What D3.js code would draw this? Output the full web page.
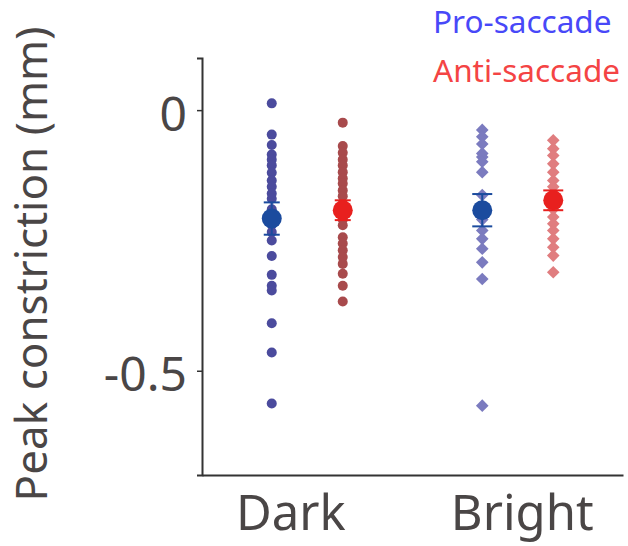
<!DOCTYPE html>
<html>
<head>
<meta charset="utf-8">
<script src="https://cdn.jsdelivr.net/npm/d3@7"></script>
<style>
  html, body { margin: 0; padding: 0; background: #fff; }
  svg { display: block; }
  svg text { font-family: "Noto Sans", "Open Sans", sans-serif; }
</style>
</head>
<body>
<svg id="chart" width="628" height="546"></svg>
<script>
// ---- data ----
const categories = ["Dark", "Bright"];
const seriesNames = ["Pro-saccade", "Anti-saccade"];
const yTicks = [0, -0.5];
const yTickLabels = ["0", "-0.5"];

const darkPro = [0.013, -0.047, -0.067, -0.085, -0.095, -0.106, -0.12, -0.135, -0.147, -0.16, -0.17, -0.19,
  -0.205, -0.22, -0.234, -0.25, -0.28, -0.316, -0.337, -0.346, -0.409, -0.465, -0.563];
const darkAnti = [-0.024, -0.069, -0.082, -0.095, -0.106, -0.119, -0.131, -0.141, -0.154, -0.165, -0.18, -0.2,
  -0.21, -0.221, -0.244, -0.256, -0.269, -0.282, -0.295, -0.314, -0.337, -0.367];
const brightPro = [-0.038, -0.051, -0.065, -0.083, -0.09, -0.099, -0.119, -0.163, -0.2, -0.21, -0.231, -0.247,
  -0.266, -0.292, -0.324, -0.567];
const brightAnti = [-0.058, -0.074, -0.087, -0.103, -0.119, -0.135, -0.147, -0.16, -0.175, -0.19, -0.205, -0.218,
  -0.231, -0.247, -0.263, -0.279, -0.311];

const proMeans = [-0.208, -0.192];
const proSem = [0.031, 0.031];
const antiMeans = [-0.192, -0.173];
const antiSem = [0.019, 0.019];

// ---- styles ----
const pointColors = {
  "Dark|Pro-saccade": "#4b4b9d",
  "Dark|Anti-saccade": "#a84a4c",
  "Bright|Pro-saccade": "#7b7bbf",
  "Bright|Anti-saccade": "#e07d7f"
};
const meanColors = { "Pro-saccade": "#1b4b9e", "Anti-saccade": "#e8201e" };
const legendColors = { "Pro-saccade": "#4848f8", "Anti-saccade": "#f44444" };
const textColor = "#4a4646";

const groups = [
  { cat: "Dark", ser: "Pro-saccade", values: darkPro, mean: proMeans[0], sem: proSem[0], shape: "circle" },
  { cat: "Dark", ser: "Anti-saccade", values: darkAnti, mean: antiMeans[0], sem: antiSem[0], shape: "circle" },
  { cat: "Bright", ser: "Pro-saccade", values: brightPro, mean: proMeans[1], sem: proSem[1], shape: "diamond" },
  { cat: "Bright", ser: "Anti-saccade", values: brightAnti, mean: antiMeans[1], sem: antiSem[1], shape: "diamond" }
];

const svg = d3.select("#chart");
const margin = { left: 202, right: 5, top: 58, bottom: 71 };
const W = 628, H = 546;

const x = d3.scalePoint().domain(categories).range([margin.left, W - margin.right]).padding(0.5);
const xs = d3.scalePoint().domain(seriesNames).range([-35.5, 35.5]);
const y = d3.scaleLinear().domain([-0.7, 0.1]).range([H - margin.bottom, margin.top]);

// axes
const yAxis = d3.axisLeft(y).tickValues(yTicks).tickFormat((d, i) => yTickLabels[i]).tickSize(5).tickPadding(10);
const gy = svg.append("g").attr("transform", `translate(${margin.left},0)`).call(yAxis);
gy.attr("font-family", null);
gy.select(".domain").attr("stroke", "#333").attr("stroke-width", 2);
gy.selectAll(".tick line").attr("stroke", "#333").attr("stroke-width", 1.5);
gy.selectAll(".tick text").attr("fill", textColor).style("font-size", "48px").attr("dy", "0.42em");

const xAxis = d3.axisBottom(x).tickSize(0).tickPadding(20);
const gx = svg.append("g").attr("transform", `translate(0,${H - margin.bottom})`).call(xAxis);
gx.attr("font-family", null);
gx.select(".domain").attr("stroke", "#333").attr("stroke-width", 2);
gx.selectAll(".tick text").attr("fill", textColor).style("font-size", "49px")
  .attr("dx", d => d === "Dark" ? -17 : 4);

// y label
svg.append("text")
  .attr("transform", `translate(47,${264}) rotate(-90)`)
  .attr("text-anchor", "middle")
  .attr("fill", textColor)
  .style("font-size", "44px")
  .text("Peak constriction (mm)");

// points
const diamond = d3.symbol().type(d3.symbolSquare).size(80);
groups.forEach(g => {
  const cx = x(g.cat) + xs(g.ser);
  const col = pointColors[g.cat + "|" + g.ser];
  const sel = svg.append("g");
  if (g.shape === "circle") {
    sel.selectAll("circle").data(g.values).join("circle")
      .attr("cx", cx).attr("cy", d => y(d)).attr("r", 5).attr("fill", col);
  } else {
    sel.selectAll("path").data(g.values).join("path")
      .attr("d", diamond)
      .attr("transform", d => `translate(${cx},${y(d)}) rotate(45)`)
      .attr("fill", col);
  }
});

// means + error bars
groups.forEach(g => {
  const cx = x(g.cat) + xs(g.ser);
  const col = meanColors[g.ser];
  const gg = svg.append("g");
  const capW = g.shape === "circle" ? 8 : 10;
  gg.append("line").attr("x1", cx).attr("x2", cx)
    .attr("y1", y(g.mean + g.sem)).attr("y2", y(g.mean - g.sem))
    .attr("stroke", col).attr("stroke-width", 2);
  [g.mean + g.sem, g.mean - g.sem].forEach(v => {
    gg.append("line").attr("x1", cx - capW).attr("x2", cx + capW)
      .attr("y1", y(v)).attr("y2", y(v))
      .attr("stroke", col).attr("stroke-width", 2);
  });
  gg.append("circle").attr("cx", cx).attr("cy", y(g.mean)).attr("r", 10).attr("fill", col);
});

// legend
seriesNames.forEach((s, i) => {
  svg.append("text")
    .attr("x", 433).attr("y", 33 + i * 49)
    .attr("fill", legendColors[s])
    .style("font-size", "31.5px")
    .text(s);
});
</script>
</body>
</html>
